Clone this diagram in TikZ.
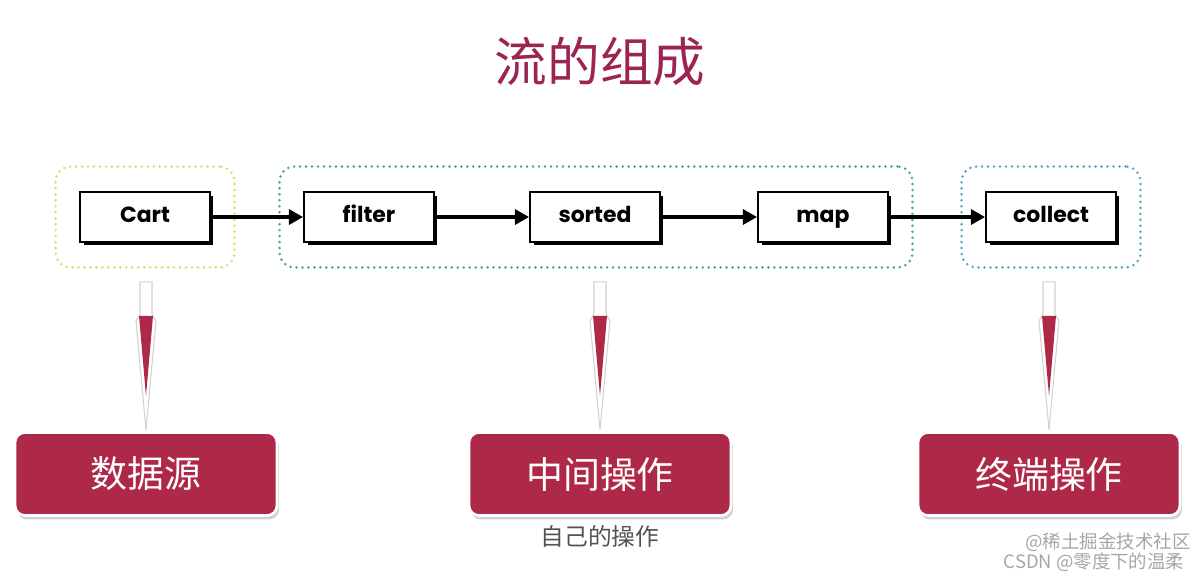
\documentclass[tikz,border=0pt]{standalone}
\usepackage{fontspec}
\usepackage{xcolor}
\usepackage{tikz}
\usetikzlibrary{arrows.meta, shadows, positioning, fit}
\newfontfamily\cjk{Noto Sans CJK SC}
\newfontfamily\opfont{Poppins}
\definecolor{wine}{RGB}{174, 40, 72}
\definecolor{titlewine}{RGB}{156, 36, 82}
\definecolor{dotyellow}{RGB}{228, 216, 96}
\definecolor{dotgreen}{RGB}{72, 170, 122}
\definecolor{dotcyan}{RGB}{72, 172, 192}

\begin{document}
\begin{tikzpicture}[
    x=0.02cm, y=-0.02cm,
    opbox/.style={draw=black, line width=1.1pt, fill=white, minimum width=2.6cm, minimum height=1cm,
        text height=1.4ex, text depth=0ex,
        font=\opfont\bfseries\fontsize{12.5}{14}\selectfont,
        drop shadow={shadow xshift=0.07cm, shadow yshift=-0.07cm, fill=black, opacity=1}},
    group/.style={rounded corners=0.3cm, line width=1.6pt, line cap=round, dash pattern=on 0pt off 3.4pt,
        inner xsep=0.47cm, inner ysep=0.49cm},
    flow/.style={line width=1.8pt, -{Triangle[length=8pt, width=8.5pt]}},
    stage/.style={fill=wine, draw=white, line width=1.5pt, rounded corners=0.2cm, text=white,
        minimum width=5.24cm, minimum height=1.66cm, font=\cjk\fontsize{21}{24}\selectfont,
        drop shadow={shadow xshift=0.04cm, shadow yshift=-0.08cm, fill=black, opacity=0.18}},
    ptrline/.style={draw=gray!35, fill=white, line width=0.6pt},
    watermark/.style={text=gray!70, font=\cjk\fontsize{10.5}{12}\selectfont}
]
    \useasboundingbox (0,0) rectangle (1201,578);

    \node[text=titlewine, font=\cjk\fontsize{30}{34}\selectfont] (title) at (600, 62) {流的组成};

    % the pipeline
    \node[opbox] (cart)    at (145, 217)  {Cart};
    \node[opbox] (filter)  at (369, 217)  {filter};
    \node[opbox] (sorted)  at (595, 217)  {sorted};
    \node[opbox] (map)     at (823, 217)  {map};
    \node[opbox] (collect) at (1051, 217) {collect};

    \node[group, draw=dotyellow, fit=(cart)] (gsrc) {};
    \node[group, draw=dotgreen, fit=(filter) (map)] (gmid) {};
    \node[group, draw=dotcyan, fit=(collect)] (gend) {};

    \draw[flow] (cart.east) -- (filter.west);
    \draw[flow] (filter.east) -- (sorted.west);
    \draw[flow] (sorted.east) -- (map.west);
    \draw[flow] (map.east) -- (collect.west);

    % the three stages
    \node[stage] (src) at (146, 474)  {数据源};
    \node[stage] (mid) at (600, 474)  {中间操作};
    \node[stage] (end) at (1049, 474) {终端操作};
    \node[below=0.05cm of mid, text=gray!65!black, font=\cjk\fontsize{13.5}{16}\selectfont] (own) {自己的操作};

    \foreach \g/\r in {gsrc/src, gmid/mid, gend/end} {
        \begin{scope}[shift={(\r.north |- \g.south)}]
            \draw[ptrline] (-6,13) -- (-6,45) -- (-10,52) -- (0,161) -- (10,52) -- (6,45) -- (6,13) -- cycle;
            \fill[wine] (-7,47) -- (7,47) -- (0,127) -- cycle;
        \end{scope}
    }

    \node[watermark] (wm1) at (1108, 542) {@稀土掘金技术社区};
    \node[watermark] (wm2) at (1094, 562) {CSDN @零度下的温柔};
\end{tikzpicture}
\end{document}
